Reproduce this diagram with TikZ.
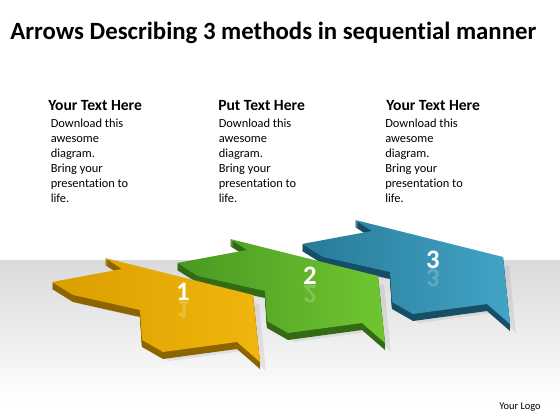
\documentclass[tikz,border=0pt]{standalone}
\usepackage{fontspec}
\setmainfont{Carlito}[Ligatures=NoCommon]
\usepackage{tikz}
\usetikzlibrary{positioning,calc}

\definecolor{goldtop}{RGB}{218,158,0}
\definecolor{goldlight}{RGB}{240,182,12}
\definecolor{goldside}{RGB}{140,100,0}
\definecolor{greentop}{RGB}{74,152,34}
\definecolor{greenlight}{RGB}{112,198,48}
\definecolor{greenside}{RGB}{50,106,22}
\definecolor{bluetop}{RGB}{40,122,152}
\definecolor{bluelight}{RGB}{66,164,198}
\definecolor{blueside}{RGB}{22,78,102}
\definecolor{floorgrey}{RGB}{218,218,218}

\tikzset{
  heading/.style={anchor=base west, inner sep=0pt, font=\fontsize{11.7}{13}\selectfont\bfseries},
  bodytext/.style={anchor=north west, inner sep=0pt, align=left, font=\fontsize{9.3}{11.2}\selectfont},
  numlabel/.style={inner sep=0pt, text=white, font=\fontsize{20}{20}\selectfont\bfseries},
  numshadow/.style={numlabel, yscale=-1, transform shape, opacity=0.2}
}

% outline of the chevron, in pixels of the first (gold) one
\def\chevronpath{(105,258) -- (122,269) -- (52,282) -- (73,295) -- (140,310) -- (142,340)
  -- (163,352) -- (237,342) -- (260,362) -- (253,295) -- cycle}

% #1 shift, #2 dark top, #3 light top, #4 side
\newcommand{\chevron}[4]{%
  \begin{scope}[shift={(#1)}]
    \fill[black, opacity=0.07, shift={(6,9)}] \chevronpath;
    \foreach \d in {1,...,7}
      \fill[#4, shift={(0,\d)}] \chevronpath;
    \shade[left color=#2, right color=#3] \chevronpath;
  \end{scope}}

\begin{document}
\begin{tikzpicture}[x=0.75pt, y=-0.75pt]
    \useasboundingbox (0,0) rectangle (560,420);
    \fill[white] (0,0) rectangle (560,420);

    % Floor
    \shade[top color=floorgrey, bottom color=white] (0,261) rectangle (560,402);

    % Title
    \node[anchor=base west, inner sep=0pt, font=\fontsize{18.6}{20}\selectfont\bfseries] (title) at (10,40)
        {Arrows Describing 3 methods in sequential manner};

    % Texts
    \node[heading] (head1) at (48,110.5) {Your Text Here};
    \node[heading] (head2) at (218,110.5) {Put Text Here};
    \node[heading] (head3) at (386,110.5) {Your Text Here};
    \node[bodytext] (body1) at (50.5,119) {Download this\\awesome\\diagram.\\Bring your\\presentation to\\life.};
    \node[bodytext] (body2) at (218.5,119) {Download this\\awesome\\diagram.\\Bring your\\presentation to\\life.};
    \node[bodytext] (body3) at (385,119) {Download this\\awesome\\diagram.\\Bring your\\presentation to\\life.};

    % Arrows
    \chevron{250,-38}{bluetop}{bluelight}{blueside}
    \chevron{125,-19}{greentop}{greenlight}{greenside}
    \chevron{0,0}{goldtop}{goldlight}{goldside}

    % Numbers
    \node[numlabel] (num1) at (183,292) {1};
    \node[numshadow] (num1r) at (183,310) {1};
    \node[numlabel] (num2) at (310,276) {2};
    \node[numshadow] (num2r) at (310,294) {2};
    \node[numlabel] (num3) at (433,260) {3};
    \node[numshadow] (num3r) at (433,278) {3};

    % Logo
    \node[anchor=base east, inner sep=0pt, font=\fontsize{7.8}{9}\selectfont] (logo) at (541,409) {Your Logo};
\end{tikzpicture}
\end{document}
